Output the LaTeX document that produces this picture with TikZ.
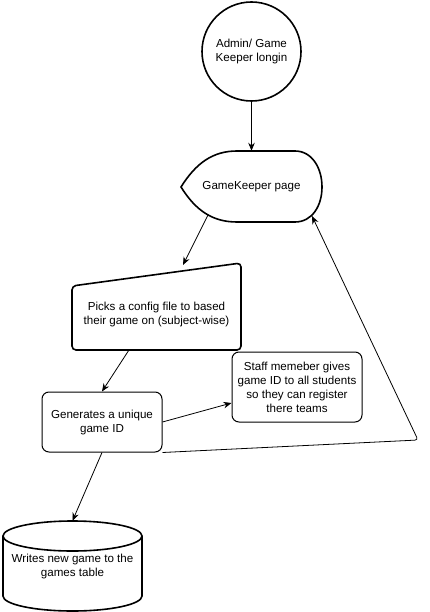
\documentclass[tikz,border=0pt]{standalone}
\usepackage{fontspec}
\setmainfont{Liberation Sans}
\usetikzlibrary{positioning}
\usetikzlibrary{arrows.meta}

\begin{document}
\begin{tikzpicture}[x=1pt,y=-1pt,
 every node/.style={font=\fontsize{11.6}{14}\selectfont, align=center},
 bold/.style={line width=1.6pt},
 flow/.style={-{Stealth[length=8pt,width=6.5pt]}, line width=0.8pt}]
\useasboundingbox (0,0) rectangle (430,612);

\node[draw, bold, circle, minimum size=99pt, inner sep=0pt] (login) at (251.5,51.5) {Admin/ Game\\Keeper longin};

\draw[bold] (181,187) .. controls (196,163) and (213,151) .. (237,151) -- (295,151)
 .. controls (312,151) and (322,168) .. (322,187) .. controls (322,206) and (312,222) .. (295,222)
 -- (237,222) .. controls (213,222) and (196,211) .. (181,187) -- cycle;
\node[minimum width=141pt, minimum height=71pt] (gk) at (251.5,186.5) {GameKeeper page};

\draw[bold, rounded corners=4pt] (72,286) -- (241,263) -- (241,350) -- (72,350) -- cycle;
\node[minimum width=169pt, minimum height=72pt] (picks) at (156.5,314.5) {Picks a config file to based\\their game on (subject-wise)};

\node[draw, line width=1pt, rounded corners=7pt, minimum width=120pt, minimum height=60pt] (gen) at (102,422) {Generates a unique\\game ID};
\node[draw, line width=1pt, rounded corners=7pt, minimum width=130pt, minimum height=70pt] (staff) at (297,387) {Staff memeber gives\\game ID to all students\\so they can register\\there teams};

\draw[bold] (3,536) -- (3,596) arc[start angle=180, end angle=0, x radius=69.5, y radius=15] -- (142,536);
\draw[bold] (72.5,536) ellipse [x radius=69.5, y radius=15];
\node[minimum width=139pt, minimum height=90pt] (db) at (72.5,566) {Writes new game to the\\games table};

\coordinate (gkout) at (208,215);
\coordinate (pickin) at (183,265);
\coordinate (bend) at (418,440);
\coordinate (gkin) at (312,216);

\draw[flow] (login) -- (gk);
\draw[flow] (gkout) -- (pickin);
\draw[flow] ([xshift=-28pt]picks.south) -- (gen.north);
\draw[flow] (gen.east) -- ([yshift=-16pt]staff.west);
\draw[flow] (gen.south) -- (db.north);
\draw[flow, rounded corners=3pt] (gen.south east) -- (bend) -- (gkin);
\end{tikzpicture}
\end{document}
